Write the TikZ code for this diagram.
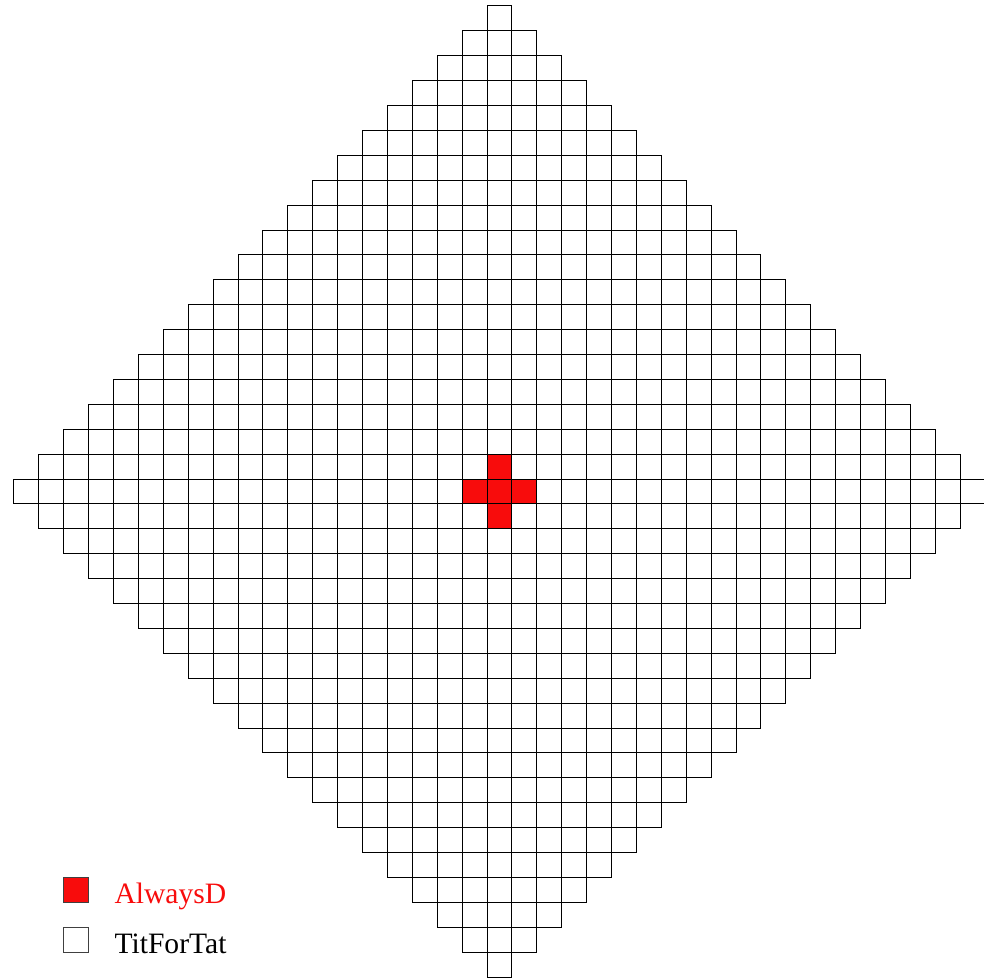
\documentclass[tikz,border=0pt]{standalone}
\usepackage{fontspec}
\setmainfont{Liberation Serif}
\definecolor{rojoD}{RGB}{248,12,12}
\begin{document}
\begin{tikzpicture}[
    x=1pt, y=-1pt,
    celda/.style={draw=black,line width=.9pt},
    cuadro/.style={draw=black!75,line width=1pt,minimum size=25pt,inner sep=0pt},
    texto/.style={font=\fontsize{29.6}{32}\selectfont,inner sep=0pt,anchor=base west}]
    \useasboundingbox (0,0) rectangle (984,978);

    % Rejilla en forma de rombo, radio 19.
    \foreach \i in {-19,...,19} {
        \pgfmathtruncatemacro{\n}{19-abs(\i)}
        \foreach \j in {-\n,...,\n} {
            \draw[celda] ({487+24.9*\i},{479+24.9*\j}) rectangle +(24.9,24.9);
        }
    }

    % Cruz central de AlwaysD.
    \foreach \i/\j in {0/0,1/0,-1/0,0/1,0/-1} {
        \filldraw[celda,fill=rojoD] ({487+24.9*\i},{479+24.9*\j}) rectangle +(24.9,24.9);
    }

    % Leyenda.
    \node[cuadro,fill=rojoD] (cuadroD) at (76.3,890) {};
    \node[cuadro,fill=white] (cuadroT) at (76.3,940) {};
    \node[texto,text=rojoD] (etiqD) at ([xshift=25pt]cuadroD.south east) {AlwaysD};
    \node[texto] (etiqT) at ([xshift=25pt]cuadroT.south east) {TitForTat};
\end{tikzpicture}
\end{document}
